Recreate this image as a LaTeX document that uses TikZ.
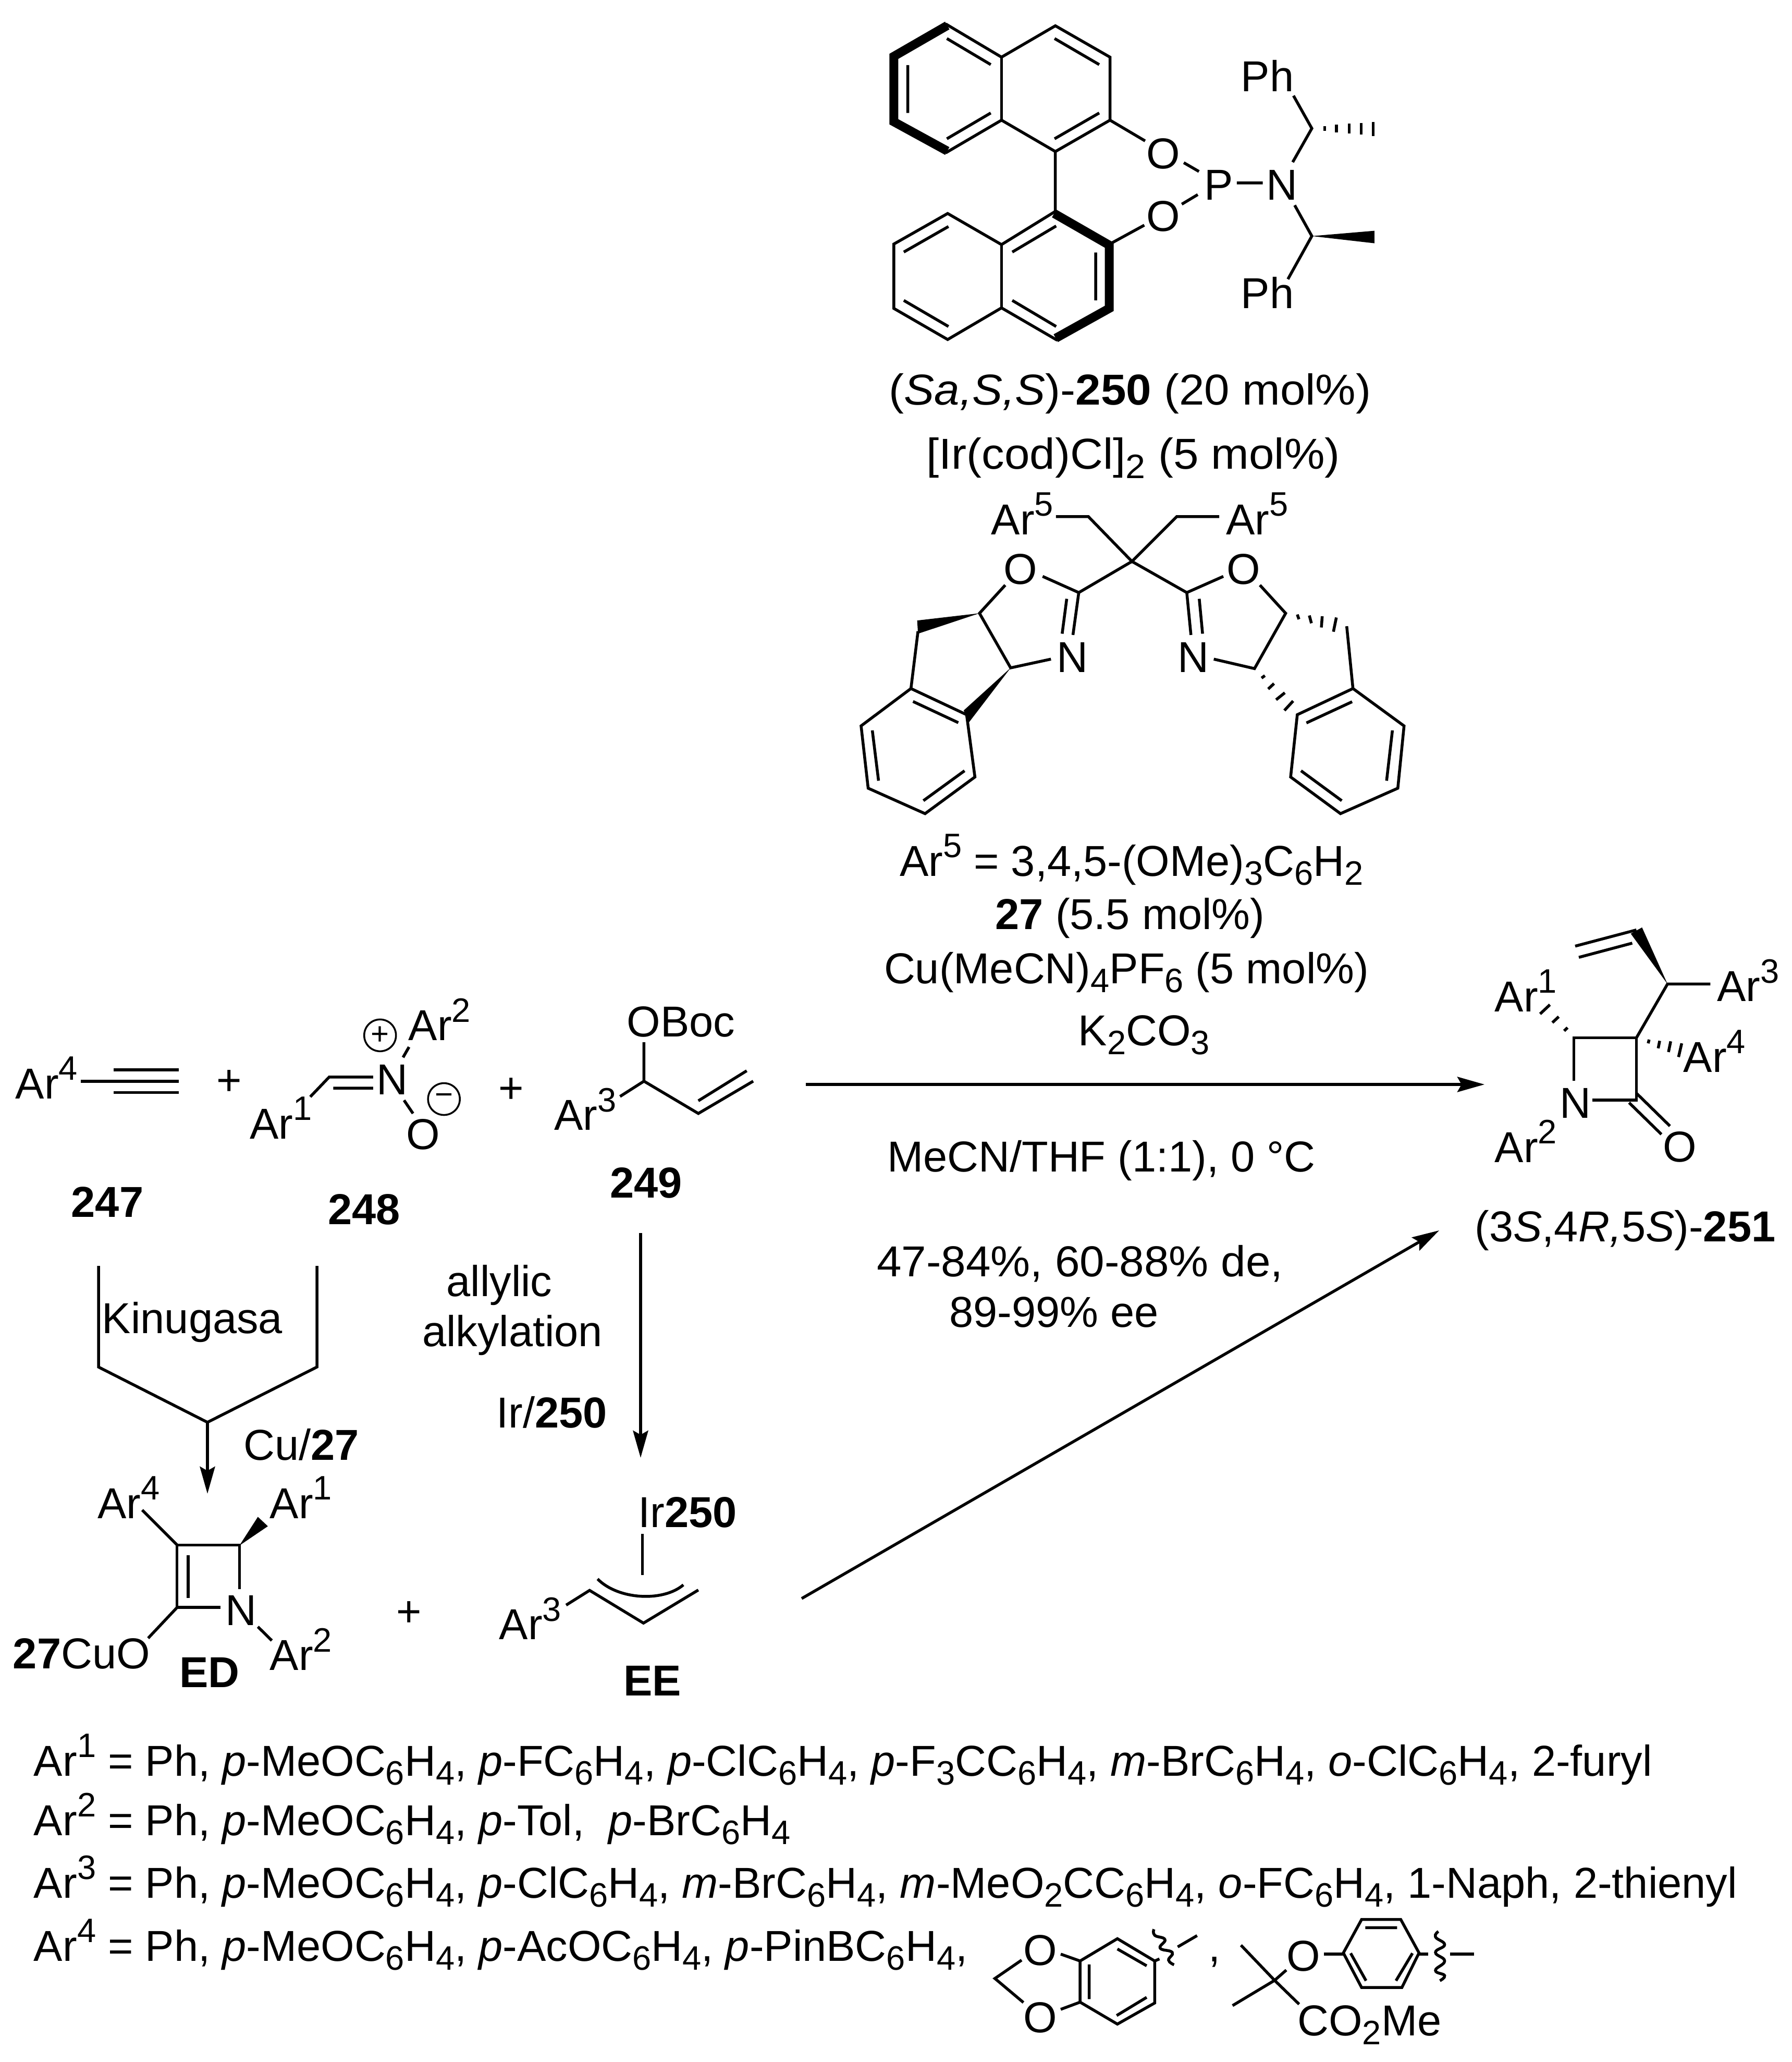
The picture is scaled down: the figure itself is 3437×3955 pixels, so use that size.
\documentclass[tikz,border=0pt]{standalone}
\usepackage{fontspec}
\setmainfont{Liberation Sans}
\usetikzlibrary{arrows.meta}
\newcommand\Up[1]{\raisebox{0.43em}{\fontsize{13}{13}\selectfont #1}}
\newcommand\Dn[1]{\raisebox{-0.21em}{\fontsize{13}{13}\selectfont #1}}
\newcommand\Bf[1]{\textbf{#1}}
\newcommand\It[1]{\textit{#1}}
\newcommand\Wd[2]{\scalebox{#1}[1]{#2}}
\tikzset{
  zm/.style n args={4}{x=#3*0.2pt,y=-#4*0.2pt,shift={(#1*0.2pt,-#2*0.2pt)}},
  bond/.style={line width=1.1pt,line cap=butt,line join=miter},
  heavy/.style={line width=3.4pt,line join=miter,line cap=butt},
  lab/.style={anchor=base west,inner sep=0pt,font=\fontsize{16.6}{18}\selectfont},
  atom/.style={lab,xshift=-1.2pt},
  boldlab/.style={lab,xshift=-0.6pt,font=\fontsize{16.6}{18}\selectfont\bfseries},
  mid/.style={anchor=base,inner sep=0pt,font=\fontsize{16.6}{18}\selectfont},
  chg/.style={circle,draw,line width=0.7pt,inner sep=0pt,minimum size=12.2pt,font=\fontsize{12}{12}\selectfont},
  rxn/.style={line width=1.1pt,-{Stealth[length=10.4pt,width=5.8pt,inset=1.6pt]}},
}
\begin{document}
\begin{tikzpicture}[x=0.2pt,y=-0.2pt]
\useasboundingbox (0,0) rectangle (3437,3955);
\fill[white] (0,0) rectangle (3437,3955);

% ---------- centred reagent text
\node[mid] (t250) at (2168,777) {\Wd{1.05}{(\It{Sa,S,S})-\Bf{250} (20 mol\%)}};
\node[mid] (tir) at (2174,900) {\Wd{1.05}{[Ir(cod)Cl]\Dn{2} (5 mol\%)}};
\node[mid] (tar5) at (2171,1680) {Ar\Up{5} = 3,4,5-(OMe)\Dn{3}C\Dn{6}H\Dn{2}};
\node[mid] (t27) at (2168,1782) {\Bf{27} (5.5 mol\%)};
\node[mid] (tcu) at (2161,1886) {Cu(MeCN)\Dn{4}PF\Dn{6} (5 mol\%)};
\node[mid] (tk) at (2195,2005) {K\Dn{2}CO\Dn{3}};
\node[mid] (tsol) at (2113,2247) {MeCN/THF (1:1), 0 °C};
\node[mid] (tyld) at (2072,2448) {\Wd{1.03}{47-84\%, 60-88\% de,}};
\node[mid] (tee) at (2022,2545) {89-99\% ee};
\node[mid] (t251) at (3118,2381) {(3\It{S},4\It{R,}5\It{S})-\Bf{251}};
\node[mid] (tallyl) at (958,2486) {allylic};
\node[mid] (talk) at (983,2582) {alkylation};
\node[mid] (tirb) at (1059,2738) {Ir/\Bf{250}};
\node[mid] (tkin) at (369,2557) {Kinugasa};
\node[mid] (tcu27) at (578,2800) {Cu/\Bf{27}};

% ---------- arrows
\coordinate (a1) at (1546,2080); \coordinate (a2) at (2848,2080);
\draw[rxn] (a1) -- (a2);
\coordinate (b1) at (1538,3066); \coordinate (b2) at (2761,2360);
\draw[rxn] (b1) -- (b2);
\coordinate (c1) at (1229,2365); \coordinate (c2) at (1229,2796);
\draw[rxn] (c1) -- (c2);
\coordinate (d1) at (189,2428); \coordinate (d2) at (189,2622);
\coordinate (d3) at (398,2728); \coordinate (d4) at (608,2622);
\coordinate (d5) at (608,2428); \coordinate (d6) at (398,2865);
\draw[bond] (d1) -- (d2) -- (d3) -- (d4) -- (d5);
\draw[rxn] (d3) -- (d6);

% ---------- 250 ligand
\begin{scope}[zm={1600}{0}{0.7653}{0.51}]
\draw[heavy] (284,96) -- (150,212) -- (150,458) -- (284,568);
\draw[bond] (280,90) -- (420,215) -- (555,97) -- (692,215) -- (692,452) -- (555,570) -- (420,452) -- (280,575);
\draw[bond] (420,215) -- (420,452);
\draw[bond] (283,145) -- (393,243) (283,522) -- (393,425) (185,245) -- (185,425) (553,145) -- (665,243) (553,522) -- (665,425);
\draw[bond] (692,452) -- (780,530) (555,570) -- (555,795);
\draw[bond] (555,795) -- (420,920) -- (285,803) -- (150,918) -- (150,1160) -- (285,1277) -- (420,1158) -- (560,1280);
\draw[bond] (420,920) -- (420,1158);
\draw[heavy] (552,803) -- (690,922) -- (690,1160) -- (556,1272);
\draw[bond] (447,948) -- (557,850) (175,948) -- (287,852) (175,1130) -- (287,1228) (447,1130) -- (557,1228) (656,950) -- (656,1130);
\draw[bond] (695,915) -- (778,847);
\draw[bond] (877,612) -- (915,645) (872,768) -- (912,732) (1010,688) -- (1075,688);
\draw[bond] (1150,610) -- (1198,483) -- (1152,360) (1155,772) -- (1198,888) -- (1138,1050);
\draw[bond] (1230,475) -- (1230,492) (1260,468) -- (1260,498) (1292,465) -- (1292,502) (1322,462) -- (1322,505) (1352,458) -- (1352,512);
\fill (1198,888) -- (1355,868) -- (1355,915) -- cycle;
\node[atom] (o1) at (790,635) {O};
\node[atom] (o2) at (790,870) {O};
\node[atom] (p) at (935,752) {P};
\node[atom] (n1) at (1090,752) {N};
\node[atom] (ph1) at (1027,345) {Ph};
\node[atom] (ph2) at (1027,1160) {Ph};
\end{scope}

% ---------- box ligand 27
\begin{scope}[zm={1550}{900}{0.797}{0.478}]
\node[lab] (ar5a) at (440,262) {Ar\Up{5}};
\node[lab] (ar5b) at (1005,262) {Ar\Up{5}};
\node[atom] (ol) at (478,462) {O};
\node[atom] (or) at (1015,462) {O};
\node[atom] (nl) at (605,815) {N};
\node[atom] (nr) at (897,815) {N};
\draw[bond] (597,190) -- (675,190) -- (780,370) -- (888,190) -- (990,190);
\draw[bond] (565,430) -- (652,495) -- (780,370) -- (912,495) -- (1000,430);
\draw[bond] (652,495) -- (638,665) (623,520) -- (612,660) (912,495) -- (922,665) (942,520) -- (950,660);
\draw[bond] (475,465) -- (413,578) -- (488,797) -- (585,762);
\fill (413,578) -- (263,607) -- (265,660) -- cycle;
\draw[bond] (265,650) -- (248,880) -- (382,985) -- (402,1235) -- (282,1382) -- (145,1280) -- (128,1030) -- (248,880);
\draw[bond] (253,932) -- (362,1017) (155,1048) -- (170,1250) (278,1330) -- (377,1210);
\fill (488,797) -- (375,968) -- (388,1015) -- cycle;
\draw[bond] (1088,465) -- (1150,578) -- (1075,800) -- (977,762);
\draw[bond] (1178,583) -- (1182,602) (1207,587) -- (1212,618) (1238,590) -- (1236,635) (1272,595) -- (1265,652);
\draw[bond] (1297,630) -- (1312,880) -- (1178,985) -- (1162,1235) -- (1282,1382) -- (1420,1280) -- (1435,1030) -- (1312,880);
\draw[bond] (1200,1018) -- (1310,933) (1407,1048) -- (1393,1250) (1187,1210) -- (1285,1330);
\draw[bond] (1092,838) -- (1100,828) (1108,882) -- (1122,860) (1127,925) -- (1148,897) (1147,968) -- (1168,930);
\end{scope}

% ---------- substrates
\begin{scope}[zm={0}{1850}{0.957}{0.333}]
\node[lab] (ar4) at (30,772) {Ar\Up{4}};
\draw[bond] (162,672) -- (358,672) (228,606) -- (358,606) (228,738) -- (358,738);
\node[mid] (pl1) at (460,752) {+};
\node[lab] (ar1) at (500,1005) {Ar\Up{1}};
\draw[bond] (622,762) -- (660,648) -- (748,648) (668,712) -- (748,712);
\node[atom] (nn) at (760,750) {N};
\node[atom] (oo) at (820,1065) {O};
\draw[bond] (810,782) -- (828,858) (820,475) -- (808,535);
\node[lab] (ar2) at (818,438) {Ar\Up{2}};
\node[chg] (cplus) at (762,408) {+};
\node[chg] (cminus) at (890,775) {−};
\node[mid] (pl2) at (1025,797) {+};
\node[atom] (boc) at (1262,415) {OBoc};
\node[lab] (ar3) at (1110,955) {Ar\Up{3}};
\draw[bond] (1291,448) -- (1291,672) -- (1400,858) -- (1510,672) (1243,760) -- (1291,672) (1400,785) -- (1497,612);
\node[boldlab] (n247) at (145,1455) {247};
\node[boldlab] (n248) at (660,1498) {248};
\node[boldlab] (n249) at (1225,1343) {249};
\end{scope}

% ---------- product 251
\begin{scope}[zm={2700}{1700}{0.47}{0.478}]
\draw[bond] (680,780) -- (680,608) -- (935,608) -- (935,858) -- (755,858);
\draw[bond] (935,830) -- (1072,962) (905,868) -- (1037,995);
\node[atom] (po) at (1055,1105) {O};
\node[atom] (pn) at (632,930) {N};
\node[lab] (par2) at (355,1107) {Ar\Up{2}};
\node[lab] (par1) at (355,503) {Ar\Up{1}};
\node[lab] (par4) at (1125,745) {Ar\Up{4}};
\node[lab] (par3) at (1262,462) {Ar\Up{3}};
\draw[bond] (640,580) -- (654,567) (592,547) -- (618,523) (542,512) -- (582,475);
\draw[bond] (983,630) -- (987,615) (1024,650) -- (1030,620) (1066,665) -- (1075,622) (1107,685) -- (1120,630);
\draw[bond] (935,608) -- (1062,392) -- (1237,392);
\fill (1062,392) -- (912,190) -- (958,165) -- cycle;
\draw[bond] (685,240) -- (935,175) (700,285) -- (918,228);
\end{scope}

% ---------- intermediates ED and EE
\begin{scope}[zm={0}{2750}{0.957}{0.3526}]
\draw[bond] (480,845) -- (480,605) -- (355,605) -- (355,945) -- (442,945);
\draw[bond] (377,660) -- (377,892);
\draw[bond] (285,415) -- (355,605) (355,945) -- (297,1112) (517,1050) -- (545,1125);
\fill (480,608) -- (517,452) -- (537,503) -- cycle;
\node[lab] (ear4) at (195,460) {Ar\Up{4}};
\node[lab] (ear1) at (540,460) {Ar\Up{1}};
\node[atom] (en) at (457,1043) {N};
\node[lab] (ear2) at (540,1287) {Ar\Up{2}};
\node[lab] (ecu) at (25,1278) {\Bf{27}CuO};
\node[boldlab] (ed) at (362,1380) {ED};
\node[mid] (pl3) at (820,1048) {+};
\node[lab] (ear3) at (1000,1120) {Ar\Up{3}};
\draw[bond] (1135,932) -- (1182,852) -- (1290,1030) -- (1400,850);
\draw[bond] (1198,790) .. controls (1240,905) and (1330,915) .. (1370,822);
\node[atom] (eir) at (1285,510) {Ir\Bf{250}};
\draw[bond] (1288,545) -- (1288,768);
\node[boldlab] (ee) at (1252,1425) {EE};
\end{scope}

% ---------- definitions
\node[lab] (l1) at (64,3406) {Ar\Up{1} = Ph, \It{p}-MeOC\Dn{6}H\Dn{4}, \It{p}-FC\Dn{6}H\Dn{4}, \It{p}-ClC\Dn{6}H\Dn{4}, \It{p}-F\Dn{3}CC\Dn{6}H\Dn{4}, \It{m}-BrC\Dn{6}H\Dn{4}, \It{o}-ClC\Dn{6}H\Dn{4}, 2-furyl};
\node[lab] (l2) at (64,3520) {Ar\Up{2} = Ph, \It{p}-MeOC\Dn{6}H\Dn{4}, \It{p}-Tol,\ \ \It{p}-BrC\Dn{6}H\Dn{4}};
\node[lab] (l3) at (64,3640) {Ar\Up{3} = Ph, \It{p}-MeOC\Dn{6}H\Dn{4}, \It{p}-ClC\Dn{6}H\Dn{4}, \It{m}-BrC\Dn{6}H\Dn{4}, \It{m}-MeO\Dn{2}CC\Dn{6}H\Dn{4}, \It{o}-FC\Dn{6}H\Dn{4}, 1-Naph, 2-thienyl};
\node[lab] (l4) at (64,3761) {Ar\Up{4} = Ph, \It{p}-MeOC\Dn{6}H\Dn{4}, \It{p}-AcOC\Dn{6}H\Dn{4}, \It{p}-PinBC\Dn{6}H\Dn{4},};

\begin{scope}[zm={1800}{3600}{0.7015}{0.329}]
\draw[bond] (388,490) -- (490,360) -- (592,490) -- (592,735) -- (490,858) -- (388,730) -- cycle;
\draw[bond] (490,420) -- (570,518) (413,510) -- (413,712) (488,808) -- (570,702);
\draw[bond] (228,485) -- (155,592) -- (233,732) (335,450) -- (388,490) (335,772) -- (388,730);
\node[atom] (do1) at (240,515) {O};
\node[atom] (do2) at (240,907) {O};
\draw[bond] (592,490) -- (605,478) (655,408) -- (708,342);
\draw[bond] plot[smooth,tension=0.8] coordinates {(590,305) (592,340) (620,365) (607,415) (640,440) (630,485) (645,512)};
\node[lab] (cm) at (738,495) {,};
\draw[bond] (828,398) -- (920,603) -- (987,742) (920,603) -- (805,750) (920,603) -- (952,543);
\node[atom] (eo) at (960,550) {O};
\node[atom] (co2) at (990,925) {CO\Dn{2}Me};
\draw[bond] (1055,450) -- (1108,450) (1315,450) -- (1340,450) (1400,450) -- (1465,450);
\draw[bond] (1108,443) -- (1158,248) -- (1265,248) -- (1315,443) -- (1268,645) -- (1158,645) -- cycle;
\draw[bond] (1168,296) -- (1255,296) (1128,445) -- (1170,605) (1297,445) -- (1252,605);
\draw[bond] plot[smooth,tension=0.8] coordinates {(1368,318) (1360,350) (1385,395) (1360,440) (1385,490) (1360,545) (1385,575) (1372,605)};
\end{scope}
\end{tikzpicture}
\end{document}
